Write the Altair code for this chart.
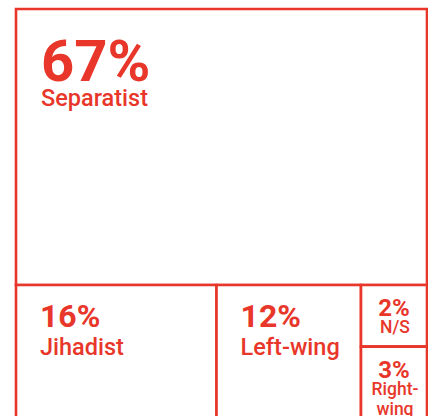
import altair as alt
import pandas as pd

# Data
categories = ["Separatist", "Jihadist", "Left-wing", "N/S", "Right-wing"]
shares = [67.0, 16.1, 11.6, 2.4, 2.9]          # estimated share of attacks (%)
pct_labels = ["67%", "16%", "12%", "2%", "3%"]
name_labels = ["Separatist", "Jihadist", "Left-wing", "N/S", "Right-\nwing"]

RED = "#e8372a"

# Treemap layout (x: 0-100 left->right, y: 0-100 top->bottom)
total = sum(shares)
rows = []
top_h = shares[0] / total * 100
rows.append((0, 100, 0, top_h, "big"))
rest = shares[1:]
rest_total = sum(rest)
# bottom row: Jihadist, Left-wing, then a column with N/S over Right-wing
x = 0.0
for v in rest[:2]:
    w = v / rest_total * 100
    rows.append((x, x + w, top_h, 100, "mid"))
    x += w
col_total = sum(rest[2:])
y = top_h
for v in rest[2:]:
    h = v / col_total * (100 - top_h)
    rows.append((x, 100, y, y + h, "small"))
    y += h

df = pd.DataFrame({
    "cat": categories,
    "value": shares,
    "pct": pct_labels,
    "name": name_labels,
    "x0": [r[0] for r in rows],
    "x1": [r[1] for r in rows],
    "y0": [r[2] for r in rows],
    "y1": [r[3] for r in rows],
    "cls": [r[4] for r in rows],
})
df["xc"] = (df["x0"] + df["x1"]) / 2

xs = alt.Scale(domain=[0, 100], nice=False, zero=False)
ys = alt.Scale(domain=[0, 100], nice=False, zero=False, reverse=True)

base = alt.Chart(df)

rects = base.mark_rect(fill="white", stroke=RED, strokeWidth=2.6).encode(
    x=alt.X("x0:Q", scale=xs, axis=None),
    x2="x1:Q",
    y=alt.Y("y0:Q", scale=ys, axis=None),
    y2="y1:Q",
)

def txt(cls, field, xfield, size, weight, dx, dy, align="left", lh=None):
    kw = dict(font="Roboto", fontSize=size, fontWeight=weight, color=RED,
              align=align, baseline="alphabetic", dx=dx, dy=dy, lineBreak="\n")
    if lh:
        kw["lineHeight"] = lh
    return base.transform_filter(alt.datum.cls == cls).mark_text(**kw).encode(
        x=alt.X(f"{xfield}:Q", scale=xs, axis=None),
        y=alt.Y("y0:Q", scale=ys, axis=None),
        text=f"{field}:N",
    )

layers = [
    rects,
    txt("big", "pct", "x0", 58, "bold", 25, 72),
    txt("big", "name", "x0", 23.5, 500, 25, 97),
    txt("mid", "pct", "x0", 32, "bold", 24, 42),
    txt("mid", "name", "x0", 23.5, 500, 24, 70),
    txt("small", "pct", "xc", 24, "bold", 0, 31, align="center"),
    txt("small", "name", "xc", 17.5, 500, 1, 48, align="center", lh=20),
]

chart = alt.layer(*layers).properties(
    width=411, height=412,
    padding={"left": 16, "top": 9, "right": 1, "bottom": 0},
    autosize=alt.AutoSizeParams(type="none"),
).configure_view(stroke=None)

chart.save("out.html", embed_options={"renderer": "svg", "actions": False})
